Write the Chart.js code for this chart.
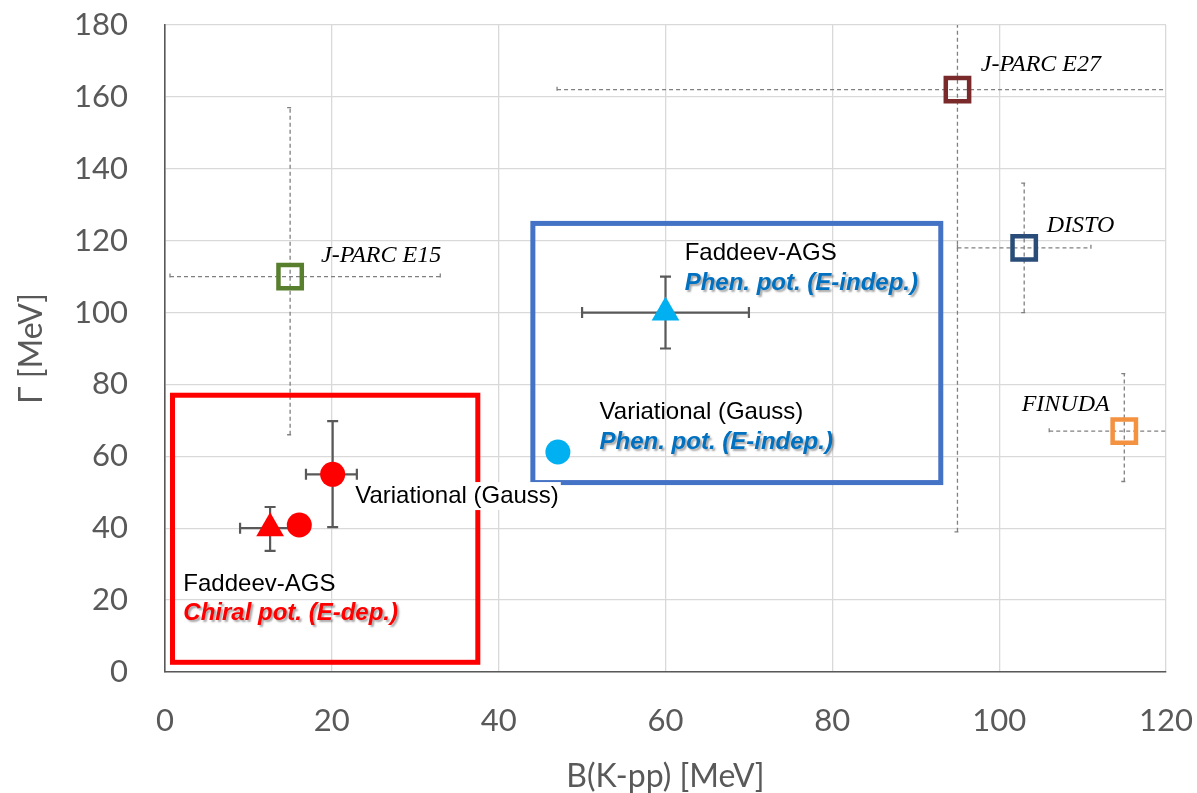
<!DOCTYPE html>
<html>
<head>
<meta charset="utf-8">
<script src="https://cdn.jsdelivr.net/npm/chart.js@4.4.0/dist/chart.umd.min.js"></script>
<style>
html, body { margin: 0; padding: 0; background: #fff; }
</style>
</head>
<body>
<canvas id="chart" width="1197" height="793"></canvas>
<script>
"use strict";
// experiments: B(K-pp) and width, with (asymmetric) error ranges
const expNames = ["J-PARC E15", "J-PARC E27", "DISTO", "FINUDA"];
const expB = [15, 95, 103, 115];
const expGamma = [110, 162, 118, 67];
const expBLow = [0.6, 47, 95, 106];
const expBHigh = [33, 130, 111, 124];
const expGammaLow = [66, 39, 100, 53];
const expGammaHigh = [157, 230, 136, 83];
const expColors = ["#587f2e", "#7a2a2a", "#294c78", "#f39240"];

// theory, chiral potential (E-dep.)
const chiralVarB = [16.1, 20.1];
const chiralVarGamma = [40.9, 55];
const chiralVarBErr = [null, [16.9, 23.0]];
const chiralVarGammaErr = [null, [40.3, 69.8]];
const chiralFadB = [12.6];
const chiralFadGamma = [40];
const chiralFadBErr = [[9.0, 16.2]];
const chiralFadGammaErr = [[33.7, 45.9]];

// theory, phenomenological potential (E-indep.)
const phenVarB = [47.1];
const phenVarGamma = [61.2];
const phenFadB = [60];
const phenFadGamma = [100];
const phenFadBErr = [[50, 70]];
const phenFadGammaErr = [[90, 110]];

const xTicks = [0, 20, 40, 60, 80, 100, 120];
const yTicks = [0, 20, 40, 60, 80, 100, 120, 140, 160, 180];

const tickFont = { family: "Lato", size: 31 };
const gray = "#595959";

function points(bs, gs, bErr, gErr) {
    return bs.map((b, i) => {
        const p = { x: b, y: gs[i] };
        if (bErr && bErr[i]) { p.xMin = bErr[i][0]; p.xMax = bErr[i][1]; }
        if (gErr && gErr[i]) { p.yMin = gErr[i][0]; p.yMax = gErr[i][1]; }
        return p;
    });
}

const expData = expB.map((b, i) => ({
    x: b, y: expGamma[i],
    xMin: expBLow[i], xMax: expBHigh[i],
    yMin: expGammaLow[i], yMax: expGammaHigh[i]
}));

// boxes and notes are placed in data units
const boxes = [
    { x1: 0.9, x2: 37.5, y1: 2.7, y2: 77.0, color: "#ff0000" },
    { x1: 44.1, x2: 93.0, y1: 52.7, y2: 124.8, color: "#4472c4" }
];
const serifFont = "italic 24px 'Liberation Serif'";
const sansFont = "24px 'Liberation Sans'";
const boldFont = "italic bold 24px 'Liberation Sans'";
const notes = [
    { text: "J-PARC E15", x: 18.7, y: 114.1, font: serifFont, color: "#000" },
    { text: "J-PARC E27", x: 97.8, y: 167.2, font: serifFont, color: "#000" },
    { text: "DISTO", x: 105.7, y: 122.4, font: serifFont, color: "#000" },
    { text: "FINUDA", x: 102.7, y: 72.6, font: serifFont, color: "#000" },
    { text: "Faddeev-AGS", x: 2.2, y: 22.5, font: sansFont, color: "#000" },
    { text: "Chiral pot. (E-dep.)", x: 2.2, y: 14.5, font: boldFont, color: "#ff0000", shadow: true },
    { text: "Variational (Gauss)", x: 22.8, y: 47.0, font: sansFont, color: "#000", bg: true },
    { text: "Faddeev-AGS", x: 62.3, y: 114.6, font: sansFont, color: "#000" },
    { text: "Phen. pot. (E-indep.)", x: 62.3, y: 106.3, font: boldFont, color: "#0070c0", shadow: true },
    { text: "Variational (Gauss)", x: 52.1, y: 70.4, font: sansFont, color: "#000" },
    { text: "Phen. pot. (E-indep.)", x: 52.1, y: 62.0, font: boldFont, color: "#0070c0", shadow: true }
];

// plot area edges in the reference
const areaTop = 25;
const areaRight = 1166;

const fixArea = {
    id: "fixArea",
    afterLayout(chart) {
        const { x, y } = chart.scales;
        y.top = areaTop;
        y.height = y.bottom - areaTop;
        y.configure();
        x.right = areaRight;
        x.width = areaRight - x.left;
        x.configure();
        const a = chart.chartArea;
        a.top = areaTop;
        a.right = areaRight;
        a.width = a.right - a.left;
        a.height = a.bottom - a.top;
    }
};

const errorBars = {
    id: "errorBars",
    beforeDatasetsDraw(chart) {
        const { ctx, chartArea, scales: { x, y } } = chart;
        ctx.save();
        ctx.beginPath();
        ctx.rect(chartArea.left, chartArea.top, chartArea.width, chartArea.height);
        ctx.clip();
        chart.data.datasets.forEach(ds => {
            const dashed = ds.errorStyle === "dashed";
            ctx.strokeStyle = dashed ? "#808080" : gray;
            ctx.lineWidth = dashed ? 1.3 : 2.2;
            ctx.setLineDash(dashed ? [4, 3] : []);
            const cap = dashed ? 3 : 5.5;
            ds.data.forEach(p => {
                const px = x.getPixelForValue(p.x);
                const py = y.getPixelForValue(p.y);
                ctx.beginPath();
                if (p.xMin !== undefined) {
                    const a = x.getPixelForValue(p.xMin), b = x.getPixelForValue(p.xMax);
                    ctx.moveTo(a, py); ctx.lineTo(b, py);
                    ctx.moveTo(a, py - cap); ctx.lineTo(a, py + cap);
                    ctx.moveTo(b, py - cap); ctx.lineTo(b, py + cap);
                }
                if (p.yMin !== undefined) {
                    const a = y.getPixelForValue(p.yMin), b = y.getPixelForValue(p.yMax);
                    ctx.moveTo(px, a); ctx.lineTo(px, b);
                    ctx.moveTo(px - cap, a); ctx.lineTo(px + cap, a);
                    ctx.moveTo(px - cap, b); ctx.lineTo(px + cap, b);
                }
                ctx.stroke();
            });
        });
        ctx.restore();
    }
};

const annotations = {
    id: "annotations",
    afterDatasetsDraw(chart) {
        const { ctx, scales: { x, y } } = chart;
        ctx.save();
        boxes.forEach(b => {
            ctx.strokeStyle = b.color;
            ctx.lineWidth = 5;
            const l = x.getPixelForValue(b.x1), r = x.getPixelForValue(b.x2);
            const t = y.getPixelForValue(b.y2), btm = y.getPixelForValue(b.y1);
            ctx.strokeRect(l, t, r - l, btm - t);
        });
        ctx.textBaseline = "alphabetic";
        ctx.textAlign = "left";
        notes.forEach(n => {
            const px = x.getPixelForValue(n.x);
            const py = y.getPixelForValue(n.y);
            ctx.font = n.font;
            if (n.bg) {
                const w = ctx.measureText(n.text).width;
                ctx.fillStyle = "#fff";
                ctx.fillRect(px - 2, py - 21, w + 4, 28);
            }
            ctx.save();
            if (n.shadow) {
                ctx.shadowColor = "rgba(0,0,0,0.35)";
                ctx.shadowOffsetX = 2;
                ctx.shadowOffsetY = 2;
                ctx.shadowBlur = 2;
            }
            ctx.fillStyle = n.color;
            ctx.fillText(n.text, px, py);
            ctx.restore();
        });
        ctx.restore();
    }
};

new Chart(document.getElementById("chart"), {
    type: "scatter",
    data: {
        datasets: [
            {
                label: "experiments",
                data: expData,
                errorStyle: "dashed",
                pointStyle: "rect",
                pointRadius: 16.5,
                pointHoverRadius: 16.5,
                pointBorderWidth: 4.5,
                pointBorderColor: expColors,
                pointBackgroundColor: "rgba(0,0,0,0)"
            },
            {
                label: "Variational chiral",
                data: points(chiralVarB, chiralVarGamma, chiralVarBErr, chiralVarGammaErr),
                pointStyle: "circle",
                pointRadius: 12.5,
                pointBorderWidth: 0,
                pointBackgroundColor: "#ff0000"
            },
            {
                label: "Faddeev chiral",
                data: points(chiralFadB, chiralFadGamma, chiralFadBErr, chiralFadGammaErr),
                pointStyle: "triangle",
                pointRadius: 16,
                pointBorderWidth: 0,
                pointBackgroundColor: "#ff0000"
            },
            {
                label: "Variational phen",
                data: points(phenVarB, phenVarGamma),
                pointStyle: "circle",
                pointRadius: 12.5,
                pointBorderWidth: 0,
                pointBackgroundColor: "#00b0f0"
            },
            {
                label: "Faddeev phen",
                data: points(phenFadB, phenFadGamma, phenFadBErr, phenFadGammaErr),
                pointStyle: "triangle",
                pointRadius: 16,
                pointBorderWidth: 0,
                pointBackgroundColor: "#00b0f0"
            }
        ]
    },
    options: {
        responsive: false,
        animation: false,
        devicePixelRatio: 1,
        layout: { padding: 0 },
        plugins: { legend: { display: false }, tooltip: { enabled: false } },
        scales: {
            x: {
                type: "linear",
                min: 0,
                max: 120,
                afterBuildTicks: s => { s.ticks = xTicks.map(v => ({ value: v })); },
                afterFit: s => { s.height = 121; },
                ticks: { color: gray, font: tickFont, padding: 30 },
                grid: { color: "#d9d9d9", lineWidth: 1.3, drawTicks: false },
                border: { color: gray, width: 1.6 },
                title: {
                    display: true, text: "B(K-pp) [MeV]", color: gray,
                    font: { family: "Lato", size: 32, lineHeight: 1 }, padding: 0
                }
            },
            y: {
                type: "linear",
                min: 0,
                max: 180,
                afterBuildTicks: s => { s.ticks = yTicks.map(v => ({ value: v })); },
                afterFit: s => { s.width = 165; },
                ticks: { color: gray, font: tickFont, padding: 37 },
                grid: { color: "#d9d9d9", lineWidth: 1.3, drawTicks: false },
                border: { color: gray, width: 1.6 },
                title: {
                    display: true, text: "Γ [MeV]", color: gray,
                    font: { family: "Lato", size: 32, lineHeight: 1 }, padding: { top: 16, bottom: 0 }
                }
            }
        }
    },
    plugins: [fixArea, errorBars, annotations]
});
</script>
</body>
</html>
